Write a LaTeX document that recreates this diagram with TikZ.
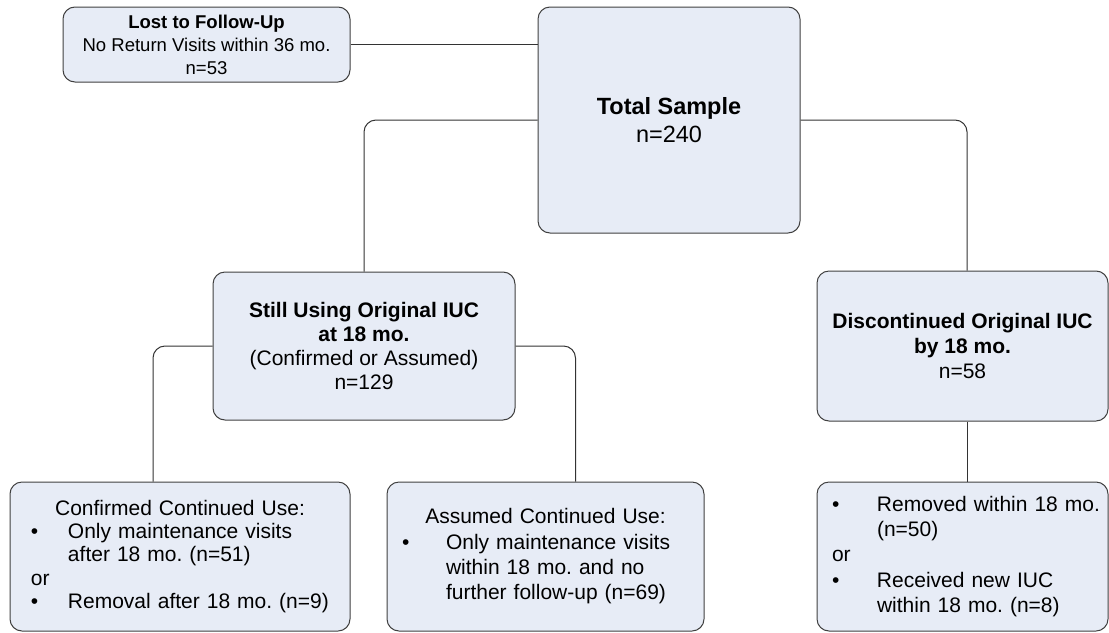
\documentclass[tikz,border=0pt]{standalone}
\usepackage{fontspec}
\setmainfont{Liberation Sans}
\frenchspacing
\definecolor{BoxClr}{rgb}{0.906,0.925,0.965}
\definecolor{EdgeClr}{rgb}{0.25,0.25,0.25}
\definecolor{LinkClr}{rgb}{0.2,0.2,0.2}
\newcommand{\bul}[2]{\mbox{\makebox[#1][l]{\textbullet}#2}}
\newcommand{\ind}[2]{\mbox{\hspace*{#1}#2}}

\begin{document}
\begin{tikzpicture}[x=0.75pt,y=-0.75pt,
  box/.style={draw=EdgeClr,fill=BoxClr,line width=0.75pt,rounded corners=9pt,inner sep=0pt,align=center},
  link/.style={draw=LinkClr,line width=0.75pt,rounded corners=9pt}]
\useasboundingbox (0,0) rectangle (1109,632);

\node[box,minimum width=215.25pt,minimum height=56.25pt,font=\fontsize{13.9}{17.25}\selectfont] (lost) at (206.5,44.5) {\textbf{Lost to Follow-Up}\\No Return Visits within 36 mo.\\n=53};
\node[box,minimum width=196.5pt,minimum height=169.5pt,font=\fontsize{17.6}{21}\selectfont] (total) at (669,120) {\textbf{Total Sample}\\n=240};

\node[box,minimum width=226.5pt,minimum height=111pt,font=\fontsize{15.75}{18}\selectfont] (still) at (364,346) {\textbf{Still Using Original IUC}\\\textbf{at 18 mo.}\\(Confirmed or Assumed)\\n=129};
\node[box,minimum width=218.25pt,minimum height=112.5pt,font=\fontsize{15.75}{18.5}\selectfont] (disc) at (962.5,346) {\textbf{Discontinued Original IUC}\\\textbf{by 18 mo.}\\n=58};

\node[box,align=left,inner xsep=15.75pt,text width=223.5pt,minimum height=111.75pt,font=\fontsize{15.75}{17.6}\selectfont] (conf) at (180,556.5) {\makebox[\linewidth]{Confirmed Continued Use:}\\\bul{27.75pt}{Only maintenance visits}\\\ind{27.75pt}{after 18 mo. (n=51)}\\or\\\bul{27.75pt}{Removal after 18 mo. (n=9)}};
\node[box,align=left,inner xsep=11.25pt,text width=215.25pt,minimum height=111.75pt,font=\fontsize{15.75}{19}\selectfont] (assm) at (545.5,556.5) {\makebox[\linewidth]{Assumed Continued Use:}\\\bul{33pt}{Only maintenance visits}\\\ind{33pt}{within 18 mo. and no}\\\ind{33pt}{further follow-up (n=69)}};
\node[box,align=left,inner xsep=11.25pt,text width=195.75pt,minimum height=111.75pt,font=\fontsize{15.75}{19}\selectfont] (rbox) at (962.5,556.5) {\bul{33.75pt}{Removed within 18 mo.}\\\ind{33.75pt}{(n=50)}\\or\\\bul{33.75pt}{Received new IUC}\\\ind{33.75pt}{within 18 mo. (n=8)}};

\draw[link] (lost.east) -- (lost.east -| total.west);
\draw[link] (total.west) -| (still.north);
\draw[link] (total.east) -| ([xshift=3.4pt]disc.north);
\draw[link] (still.west) -| ([xshift=-20.25pt]conf.north);
\draw[link] (still.east) -| ([xshift=22.5pt]assm.north);
\draw[link] ([xshift=3.4pt]disc.south) -- ([xshift=3.4pt]rbox.north);

\end{tikzpicture}
\end{document}
